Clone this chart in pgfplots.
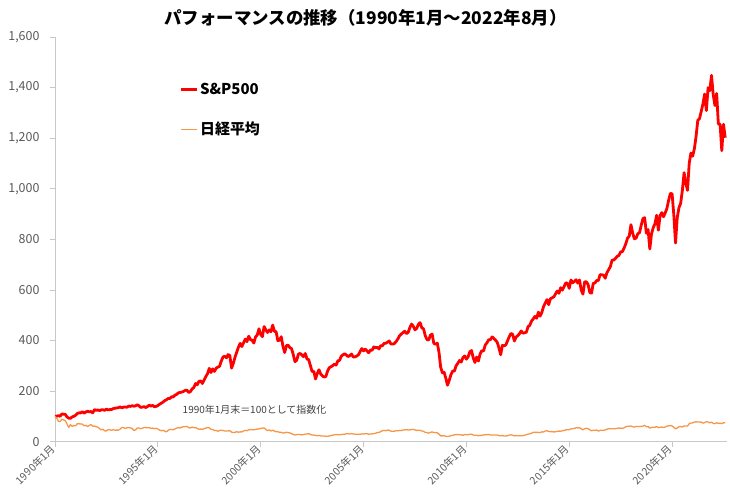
\documentclass[border=0pt]{standalone}
\usepackage{fontspec}
\setmainfont{Noto Sans CJK JP}
\usepackage{pgfplots}
\pgfplotsset{compat=1.18}
\usepackage{pgfplotstable}
\definecolor{spred}{RGB}{255,0,0}
\definecolor{nkorange}{RGB}{247,150,70}
\definecolor{tickgray}{RGB}{89,89,89}
\definecolor{axgray}{RGB}{200,200,200}
\definecolor{notegray}{RGB}{64,64,64}

\pgfplotstableread{
yr m sp nk
1990 1 100.0 100.0
1990 2 100.9 93.0
1990 3 103.3 80.6
1990 4 100.5 79.6
1990 5 109.8 89.1
1990 6 108.8 85.9
1990 7 108.2 83.5
1990 8 98.0 69.9
1990 9 93.0 56.4
1990 10 92.4 67.7
1990 11 97.9 60.4
1990 12 100.3 64.1
1991 1 104.5 62.6
1991 2 111.6 71.0
1991 3 114.0 70.7
1991 4 114.0 70.2
1991 5 118.5 69.3
1991 6 112.8 62.6
1991 7 117.8 64.9
1991 8 120.2 60.1
1991 9 117.9 64.3
1991 10 119.3 67.8
1991 11 114.0 61.0
1991 12 126.7 61.8
1992 1 124.2 59.2
1992 2 125.4 57.4
1992 3 122.7 52.0
1992 4 126.1 46.8
1992 5 126.2 49.3
1992 6 124.0 42.9
1992 7 128.9 42.8
1992 8 125.8 48.6
1992 9 127.0 46.8
1992 10 127.2 45.1
1992 11 131.1 47.6
1992 12 132.4 45.5
1993 1 133.3 45.8
1993 2 134.7 45.6
1993 3 137.3 50.0
1993 4 133.8 56.3
1993 5 136.8 55.3
1993 6 137.0 52.7
1993 7 136.2 54.8
1993 8 141.0 56.5
1993 9 139.5 54.1
1993 10 142.2 53.0
1993 11 140.3 44.1
1993 12 141.8 46.8
1994 1 146.3 54.4
1994 2 141.9 53.8
1994 3 135.5 51.4
1994 4 137.0 53.0
1994 5 138.7 56.4
1994 6 135.0 55.5
1994 7 139.3 55.0
1994 8 144.5 55.5
1994 9 140.6 52.6
1994 10 143.6 53.8
1994 11 137.9 51.3
1994 12 139.6 53.0
1995 1 142.9 50.1
1995 2 148.1 45.9
1995 3 152.2 43.4
1995 4 156.4 45.2
1995 5 162.1 41.5
1995 6 165.6 39.0
1995 7 170.8 44.8
1995 8 170.7 48.7
1995 9 177.6 48.2
1995 10 176.7 47.5
1995 11 184.0 50.4
1995 12 187.2 53.4
1996 1 193.3 56.0
1996 2 194.6 54.1
1996 3 196.2 57.6
1996 4 198.8 59.3
1996 5 203.3 59.0
1996 6 203.8 60.6
1996 7 194.5 55.6
1996 8 198.1 54.2
1996 9 208.9 58.0
1996 10 214.3 55.0
1996 11 230.0 56.5
1996 12 225.1 52.1
1997 1 238.9 49.3
1997 2 240.3 49.9
1997 3 230.1 48.4
1997 4 243.5 51.5
1997 5 257.8 54.0
1997 6 269.0 55.4
1997 7 290.0 54.7
1997 8 273.3 49.0
1997 9 287.9 48.1
1997 10 277.9 44.3
1997 11 290.3 44.7
1997 12 294.9 41.0
1998 1 297.9 44.7
1998 2 318.9 45.3
1998 3 334.8 44.4
1998 4 337.9 42.1
1998 5 331.5 42.1
1998 6 344.5 42.6
1998 7 340.6 44.0
1998 8 290.9 37.9
1998 9 309.0 36.0
1998 10 333.9 36.5
1998 11 353.6 40.0
1998 12 373.5 37.2
1999 1 388.8 39.0
1999 2 376.3 38.6
1999 3 390.9 42.6
1999 4 405.7 44.9
1999 5 395.6 43.3
1999 6 417.1 47.1
1999 7 403.8 48.0
1999 8 401.2 46.9
1999 9 389.8 47.3
1999 10 414.2 48.2
1999 11 422.1 49.9
1999 12 446.5 50.9
2000 1 423.8 52.5
2000 2 415.2 53.7
2000 3 455.4 54.7
2000 4 441.4 48.3
2000 5 431.7 43.9
2000 6 442.0 46.8
2000 7 434.8 42.3
2000 8 461.2 45.3
2000 9 436.5 42.3
2000 10 434.4 39.1
2000 11 399.7 39.4
2000 12 401.2 37.1
2001 1 415.1 37.2
2001 2 376.8 34.6
2001 3 352.6 35.0
2001 4 379.7 37.5
2001 5 381.6 35.7
2001 6 372.1 34.9
2001 7 368.1 31.9
2001 8 344.5 28.8
2001 9 316.3 26.3
2001 10 322.1 27.9
2001 11 346.3 28.8
2001 12 348.9 28.4
2002 1 343.4 26.9
2002 2 336.3 28.5
2002 3 348.7 29.6
2002 4 327.2 30.9
2002 5 324.3 31.6
2002 6 300.8 28.6
2002 7 277.0 26.6
2002 8 278.4 25.9
2002 9 247.8 25.2
2002 10 269.2 23.2
2002 11 284.5 24.8
2002 12 267.4 23.1
2003 1 260.0 22.4
2003 2 255.6 22.5
2003 3 257.8 21.4
2003 4 278.6 21.1
2003 5 292.8 22.7
2003 6 296.1 24.4
2003 7 300.9 25.7
2003 8 306.3 27.8
2003 9 302.7 27.5
2003 10 319.3 28.4
2003 11 321.6 27.2
2003 12 337.9 28.7
2004 1 343.7 29.0
2004 2 347.9 29.7
2004 3 342.2 31.5
2004 4 336.5 31.6
2004 5 340.6 30.2
2004 6 346.7 31.9
2004 7 334.8 30.5
2004 8 335.5 29.8
2004 9 338.7 29.1
2004 10 343.4 29.0
2004 11 356.7 29.3
2004 12 368.3 30.9
2005 1 359.0 30.6
2005 2 365.7 31.6
2005 3 358.8 31.4
2005 4 351.6 29.6
2005 5 362.1 30.3
2005 6 362.0 31.1
2005 7 375.0 32.0
2005 8 370.8 33.4
2005 9 373.4 36.5
2005 10 366.8 36.6
2005 11 379.7 40.0
2005 12 379.3 43.3
2006 1 389.0 44.8
2006 2 389.2 43.6
2006 3 393.5 45.9
2006 4 398.3 45.5
2006 5 386.0 41.6
2006 6 386.0 41.7
2006 7 388.0 41.6
2006 8 396.2 43.4
2006 9 406.0 43.4
2006 10 418.7 44.1
2006 11 425.6 43.8
2006 12 431.0 46.3
2007 1 437.0 46.7
2007 2 427.5 47.3
2007 3 431.8 46.5
2007 4 450.5 46.8
2007 5 465.1 48.1
2007 6 456.9 48.8
2007 7 442.2 46.4
2007 8 447.9 44.6
2007 9 464.0 45.1
2007 10 470.8 45.0
2007 11 450.1 42.2
2007 12 446.2 41.2
2008 1 418.9 36.5
2008 2 404.3 36.6
2008 3 401.9 33.7
2008 4 421.1 37.2
2008 5 425.6 38.6
2008 6 389.0 36.3
2008 7 385.1 36.0
2008 8 389.8 35.2
2008 9 354.4 30.3
2008 10 294.4 23.1
2008 11 272.3 22.9
2008 12 274.5 23.8
2009 1 251.0 21.5
2009 2 223.4 20.4
2009 3 242.5 21.8
2009 4 265.2 23.7
2009 5 279.3 25.6
2009 6 279.4 26.8
2009 7 300.1 27.9
2009 8 310.1 28.2
2009 9 321.2 27.2
2009 10 314.9 27.0
2009 11 332.9 25.1
2009 12 338.9 28.4
2010 1 326.3 27.4
2010 2 335.6 27.2
2010 3 355.4 29.8
2010 4 360.6 29.7
2010 5 331.0 26.3
2010 6 313.2 25.2
2010 7 334.8 25.6
2010 8 318.9 23.7
2010 9 346.8 25.2
2010 10 359.6 24.7
2010 11 358.8 26.7
2010 12 382.2 27.5
2011 1 390.8 27.5
2011 2 403.3 28.6
2011 3 402.9 26.2
2011 4 414.4 26.5
2011 5 408.8 26.1
2011 6 401.3 26.4
2011 7 392.7 26.4
2011 8 370.4 24.1
2011 9 343.8 23.4
2011 10 380.9 24.2
2011 11 378.9 22.7
2011 12 382.2 22.7
2012 1 398.8 23.7
2012 2 415.0 26.1
2012 3 428.0 27.1
2012 4 424.8 25.6
2012 5 398.2 23.0
2012 6 413.9 24.2
2012 7 419.1 23.4
2012 8 427.4 23.8
2012 9 437.8 23.9
2012 10 429.1 24.0
2012 11 430.4 25.4
2012 12 433.4 28.0
2013 1 455.2 30.0
2013 2 460.3 31.1
2013 3 476.8 33.3
2013 4 485.5 37.3
2013 5 495.5 37.0
2013 6 488.1 36.8
2013 7 512.2 36.8
2013 8 496.2 36.0
2013 9 511.0 38.9
2013 10 533.8 38.5
2013 11 548.7 42.1
2013 12 561.7 43.8
2014 1 541.7 40.1
2014 2 565.1 39.9
2014 3 569.0 39.9
2014 4 572.5 38.5
2014 5 584.5 39.3
2014 6 595.7 40.8
2014 7 586.7 42.0
2014 8 608.8 41.5
2014 9 599.3 43.5
2014 10 613.3 44.1
2014 11 628.3 47.0
2014 12 625.7 46.9
2015 1 606.2 47.5
2015 2 639.5 50.5
2015 3 628.4 51.6
2015 4 633.7 52.5
2015 5 640.4 55.3
2015 6 626.9 54.4
2015 7 639.3 55.4
2015 8 599.3 50.8
2015 9 583.4 46.8
2015 10 631.9 51.3
2015 11 632.2 53.1
2015 12 621.1 51.2
2016 1 589.6 47.1
2016 2 587.2 43.1
2016 3 625.9 45.1
2016 4 627.6 44.8
2016 5 637.2 46.3
2016 6 637.8 41.9
2016 7 660.5 44.6
2016 8 659.7 45.4
2016 9 658.9 44.2
2016 10 646.1 46.9
2016 11 668.2 49.2
2016 12 680.3 51.4
2017 1 692.5 51.2
2017 2 718.3 51.4
2017 3 718.0 50.8
2017 4 724.5 51.6
2017 5 732.9 52.8
2017 6 736.4 53.9
2017 7 750.7 53.6
2017 8 751.1 52.8
2017 9 765.6 54.7
2017 10 782.6 59.2
2017 11 804.5 61.1
2017 12 812.5 61.2
2018 1 858.1 62.1
2018 2 824.7 59.3
2018 3 802.5 57.7
2018 4 804.7 60.4
2018 5 822.1 59.7
2018 6 826.1 60.0
2018 7 855.8 60.6
2018 8 881.7 61.5
2018 9 885.5 64.9
2018 10 824.0 58.9
2018 11 838.8 60.1
2018 12 761.8 53.8
2019 1 821.7 55.9
2019 2 846.2 57.5
2019 3 861.3 57.0
2019 4 895.2 59.9
2019 5 836.3 55.4
2019 6 894.0 57.2
2019 7 905.7 57.9
2019 8 889.3 55.7
2019 9 904.6 58.5
2019 10 923.1 61.7
2019 11 954.5 62.6
2019 12 981.8 63.6
2020 1 980.2 62.4
2020 2 897.7 56.9
2020 3 785.4 50.9
2020 4 885.0 54.3
2020 5 925.1 58.8
2020 6 942.1 59.9
2020 7 994.0 58.4
2020 8 1063.7 62.2
2020 9 1021.9 62.3
2020 10 993.7 61.8
2020 11 1100.5 71.1
2020 12 1141.4 73.8
2021 1 1128.7 74.4
2021 2 1158.2 77.9
2021 3 1207.3 78.5
2021 4 1270.6 77.5
2021 5 1277.5 77.6
2021 6 1305.9 77.4
2021 7 1335.7 73.4
2021 8 1374.4 75.5
2021 9 1309.0 79.2
2021 10 1399.5 77.7
2021 11 1387.8 74.8
2021 12 1448.4 77.4
2022 1 1372.2 72.6
2022 2 1329.1 71.3
2022 3 1376.7 74.8
2022 4 1255.6 72.2
2022 5 1255.7 73.4
2022 6 1150.3 71.0
2022 7 1255.1 74.8
2022 8 1201.8 75.5
}\perf

\begin{document}
\begin{tikzpicture}
\begin{axis}[
  scale only axis, width=672bp, height=404.7bp,
  xmin=1990, xmax=2022.67, ymin=0, ymax=1600,
  axis x line*=bottom, axis y line*=left,
  axis line style={axgray, line width=0.8bp},
  tick align=outside, major tick length=5bp,
  tick style={axgray, line width=0.8bp},
  xtick={1990,1995,2000,2005,2010,2015,2020},
  xticklabels={1990年1月,1995年1月,2000年1月,2005年1月,2010年1月,2015年1月,2020年1月},
  ytick={0,200,400,600,800,1000,1200,1400,1600},
  /pgf/number format/.cd, 1000 sep={,}, assume math mode=true, /pgfplots/.cd,
  yticklabel style={font=\fontsize{12.5}{14}\selectfont, text=tickgray, xshift=-7bp},
  xticklabel style={font=\fontsize{10.5}{12}\selectfont, text=tickgray, rotate=45, anchor=east, xshift=2bp, yshift=1bp},
  legend style={draw=none, fill=none, at={(rel axis cs:0.181,0.895)}, anchor=north west,
    font=\fontsize{15}{18}\selectfont\bfseries, row sep=23bp, nodes={inner sep=1.5bp}},
  legend cell align=left,
  legend image code/.code={\draw[#1] (0bp,0bp) -- (16bp,0bp);},
  clip=false,
]
\coordinate (O) at (rel axis cs:0,0);
\addplot[spred, line width=2.8bp, line join=round] table[x expr=\thisrow{yr}+(\thisrow{m}-1)/12, y=sp]{\perf};
\addlegendentry{S\&P500}
\addplot[nkorange, line width=1.3bp, line join=round] table[x expr=\thisrow{yr}+(\thisrow{m}-1)/12, y=nk]{\perf};
\addlegendentry{日経平均}
\node[font=\fontsize{10}{12}\selectfont, text=notegray] at (axis cs:1999.7,125) {1990年1月末＝100として指数化};
\node[font=\fontsize{17.5}{20}\selectfont\bfseries, anchor=center] at ([yshift=19bp]rel axis cs:0.462,1) {パフォーマンスの推移（1990年1月～2022年8月）};
\end{axis}
\pgfresetboundingbox
\path (O) ++(-55bp,-51.3bp) rectangle ++(730bp,493bp);
\end{tikzpicture}
\end{document}
